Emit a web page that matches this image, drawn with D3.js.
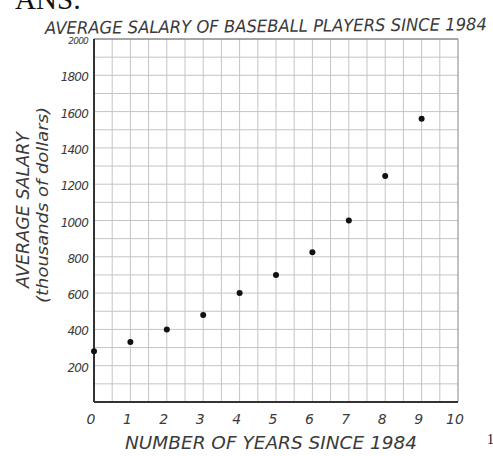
<!DOCTYPE html>
<html>
<head>
<meta charset="utf-8">
<script src="https://cdn.jsdelivr.net/npm/d3@7"></script>
<style>
  body { margin: 0; background: #fff; }
  svg { display: block; }
  .hand { font-family: "DejaVu Sans", sans-serif; font-style: italic; fill: #3a3a3a; }
</style>
</head>
<body>
<div id="chart"></div>
<script>
// data
const years = [0, 1, 2, 3, 4, 5, 6, 7, 8, 9];
const salary = [280, 330, 400, 480, 600, 700, 825, 1000, 1245, 1560];
const xTicks = [0, 1, 2, 3, 4, 5, 6, 7, 8, 9, 10];
const yTicks = [200, 400, 600, 800, 1000, 1200, 1400, 1600, 1800, 2000];

const W = 493, H = 456;
const gLeft = 94, gRight = 458, gTop = 39, gBottom = 402;

const svg = d3.select("#chart").append("svg")
    .attr("width", W)
    .attr("height", H);

const x = d3.scaleLinear().domain([0, 10]).range([gLeft, gRight]);
const y = d3.scaleLinear().domain([0, 2000]).range([gBottom, gTop]);

// grid paper
svg.append("g")
    .selectAll("line")
    .data(d3.range(0.5, 10, 0.5))
    .enter().append("line")
    .attr("x1", d => x(d)).attr("x2", d => x(d))
    .attr("y1", gTop).attr("y2", gBottom)
    .attr("stroke", "#c4c4c4").attr("stroke-width", 1);

svg.append("g")
    .selectAll("line")
    .data(d3.range(100, 2000, 100))
    .enter().append("line")
    .attr("x1", gLeft).attr("x2", gRight)
    .attr("y1", d => y(d)).attr("y2", d => y(d))
    .attr("stroke", "#c4c4c4").attr("stroke-width", 1);

// border top / right
svg.append("line")
    .attr("x1", gLeft).attr("x2", gRight).attr("y1", gTop).attr("y2", gTop)
    .attr("stroke", "#888").attr("stroke-width", 1.5);
svg.append("line")
    .attr("x1", gRight).attr("x2", gRight).attr("y1", gTop).attr("y2", gBottom)
    .attr("stroke", "#999").attr("stroke-width", 1.2);

// axes
svg.append("line")
    .attr("x1", gLeft).attr("x2", gLeft).attr("y1", gTop).attr("y2", gBottom)
    .attr("stroke", "#333").attr("stroke-width", 2);
svg.append("line")
    .attr("x1", gLeft).attr("x2", gRight).attr("y1", gBottom).attr("y2", gBottom)
    .attr("stroke", "#333").attr("stroke-width", 2);

// tick labels
svg.append("g").selectAll("text")
    .data(xTicks)
    .enter().append("text")
    .attr("class", "hand")
    .attr("x", d => x(d) - 3)
    .attr("y", 424)
    .attr("text-anchor", "middle")
    .attr("font-size", 14)
    .text(d => d);

svg.append("g").selectAll("text")
    .data(yTicks)
    .enter().append("text")
    .attr("class", "hand")
    .attr("x", 88)
    .attr("y", d => d === 2000 ? y(d) + 5 : y(d) + 6)
    .attr("text-anchor", "end")
    .attr("font-size", d => d === 2000 ? 9 : 12)
    .attr("letter-spacing", -0.8)
    .text(d => d);

// points
svg.append("g").selectAll("circle")
    .data(years)
    .enter().append("circle")
    .attr("cx", d => x(d))
    .attr("cy", (d, i) => y(salary[i]))
    .attr("r", 3)
    .attr("fill", "#111");

// titles (hand lettering is tall and narrow, so stretch vertically)
svg.append("text")
    .attr("class", "hand")
    .attr("transform", "translate(45,34) rotate(-0.5) scale(1,1.15)")
    .attr("font-size", 15)
    .attr("textLength", 442)
    .attr("lengthAdjust", "spacingAndGlyphs")
    .text("AVERAGE SALARY OF BASEBALL PLAYERS SINCE 1984");

svg.append("text")
    .attr("class", "hand")
    .attr("transform", "translate(125,449) scale(1,1.15)")
    .attr("font-size", 15)
    .attr("textLength", 292)
    .attr("lengthAdjust", "spacingAndGlyphs")
    .text("NUMBER OF YEARS SINCE 1984");

svg.append("text")
    .attr("class", "hand")
    .attr("transform", "translate(29,210) rotate(-90) scale(1,1.15)")
    .attr("text-anchor", "middle")
    .attr("font-size", 15)
    .attr("textLength", 156)
    .attr("lengthAdjust", "spacingAndGlyphs")
    .text("AVERAGE SALARY");

svg.append("text")
    .attr("class", "hand")
    .attr("transform", "translate(48,205) rotate(-90)")
    .attr("text-anchor", "middle")
    .attr("font-size", 15)
    .attr("textLength", 196)
    .attr("lengthAdjust", "spacingAndGlyphs")
    .text("(thousands of dollars)");

// page fragments around the figure
svg.append("text")
    .attr("x", 15).attr("y", 9)
    .attr("font-family", "Liberation Serif, serif")
    .attr("font-size", 29)
    .attr("fill", "#111")
    .text("ANS:");

svg.append("text")
    .attr("x", 487).attr("y", 444)
    .attr("font-family", "Liberation Serif, serif")
    .attr("font-size", 14)
    .attr("fill", "#111")
    .text("1");
</script>
</body>
</html>
